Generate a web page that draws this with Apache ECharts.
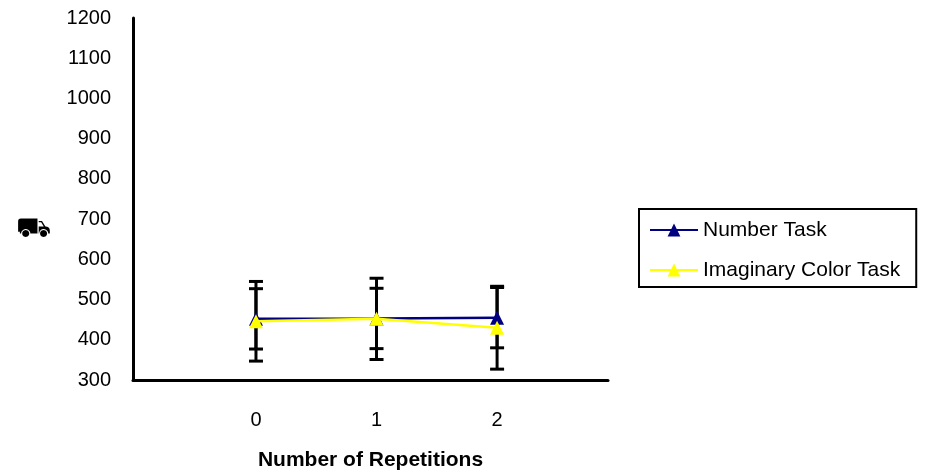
<!DOCTYPE html>
<html>
<head>
<meta charset="utf-8">
<script src="https://cdn.jsdelivr.net/npm/echarts@6/dist/echarts.min.js"></script>
<style>html,body{margin:0;padding:0;background:#fff}#c{width:926px;height:476px}</style>
</head>
<body>
<div id="c"></div>
<script>
var categories = [0, 1, 2];
var yTicks = [300, 400, 500, 600, 700, 800, 900, 1000, 1100, 1200];
var numberMean = [452, 453, 455];
var numberErr = [75, 75, 75];
var colorMean = [446, 452, 430];
var colorErr = [99, 101, 103];
var seriesNames = ['Number Task', 'Imaginary Color Task'];

var FONT = "'Liberation Sans', Arial, sans-serif";
function pts(m) { return categories.map(function (c, i) { return [c, m[i]]; }); }
function errs(m, e) { return categories.map(function (c, i) { return [c, m[i] - e[i], m[i] + e[i]]; }); }

function errRender(params, api) {
  var x = api.value(0);
  var lo = api.coord([x, api.value(1)]);
  var hi = api.coord([x, api.value(2)]);
  var w = 7;
  var st = { stroke: '#000', lineWidth: 3 };
  return {
    type: 'group',
    children: [
      { type: 'line', shape: { x1: lo[0], y1: lo[1], x2: hi[0], y2: hi[1] }, style: st },
      { type: 'line', shape: { x1: lo[0] - w, y1: lo[1], x2: lo[0] + w, y2: lo[1] }, style: st },
      { type: 'line', shape: { x1: hi[0] - w, y1: hi[1], x2: hi[0] + w, y2: hi[1] }, style: st }
    ]
  };
}

var chart = echarts.init(document.getElementById('c'));
chart.setOption({
  animation: false,
  backgroundColor: '#fff',
  grid: { left: 133, right: 318, top: 18, bottom: 96, containLabel: false },
  xAxis: {
    type: 'value', min: -1.02, max: 2.92,
    splitLine: { show: false },
    axisLine: { show: true, onZero: false, lineStyle: { color: '#000', width: 3 } },
    axisTick: { show: false },
    axisLabel: { customValues: categories, color: '#000', fontSize: 20, fontFamily: FONT, margin: 30 },
    name: 'Number of Repetitions', nameLocation: 'middle', nameGap: 70, nameMoveOverlap: false,
    nameTextStyle: { color: '#000', fontSize: 21, fontWeight: 'bold', fontFamily: FONT }
  },
  yAxis: {
    type: 'value', min: 300, max: 1200, interval: 100,
    splitLine: { show: false },
    axisLine: { show: true, onZero: false, lineStyle: { color: '#000', width: 3 } },
    axisTick: { show: false },
    axisLabel: { color: '#000', fontSize: 20, fontFamily: FONT, margin: 22, formatter: function (v) { return String(v); } }
  },
  graphic: [{
    type: 'text', left: 16, top: 216,
    style: { text: '\u26DF', fontSize: 28, fill: '#000', fontFamily: "'DejaVu Sans'" }
  }],
  legend: {
    orient: 'vertical', left: 639, top: 209,
    padding: [10, 16, 6, 10],
    itemGap: 18, itemWidth: 48, itemHeight: 16,
    borderColor: '#000', borderWidth: 2,
    textStyle: { color: '#000', fontSize: 21, fontFamily: FONT, lineHeight: 22 },
    data: seriesNames
  },
  series: [
    { type: 'custom', renderItem: errRender, data: errs(colorMean, colorErr), z: 1, silent: true },
    { type: 'custom', renderItem: errRender, data: errs(numberMean, numberErr), z: 1, silent: true },
    {
      name: seriesNames[0], type: 'line', data: pts(numberMean), z: 3,
      symbol: 'triangle', symbolSize: 14,
      lineStyle: { color: '#000080', width: 2.5 },
      itemStyle: { color: '#000080' }
    },
    {
      name: seriesNames[1], type: 'line', data: pts(colorMean), z: 4,
      symbol: 'triangle', symbolSize: 14,
      lineStyle: { color: '#FFFF00', width: 2.5 },
      itemStyle: { color: '#FFFF00' }
    }
  ]
});
</script>
</body>
</html>
